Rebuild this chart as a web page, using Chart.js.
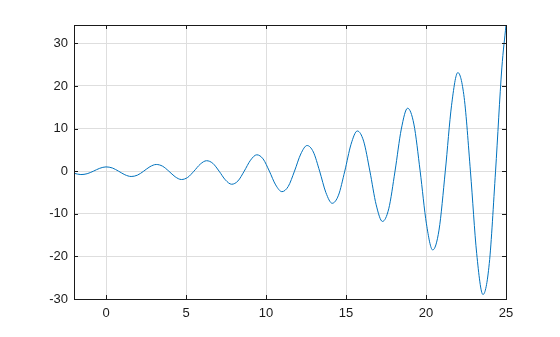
<!DOCTYPE html>
<html>
<head>
<meta charset="utf-8">
<script src="https://cdn.jsdelivr.net/npm/chart.js@4"></script>
<style>
  html, body { margin: 0; padding: 0; background: #fff; }
  #wrap { width: 560px; height: 337px; }
</style>
</head>
<body>
<div id="wrap"><canvas id="plot"></canvas></div>
<script>
// values
const xValues = [-2, -1.571, -1.178, -0.785, -0.393, 0, 0.393, 0.785, 1.178, 1.571, 1.963, 2.356, 2.749,
    3.142, 3.534, 3.927, 4.320, 4.712, 5.105, 5.498, 5.890, 6.283, 6.676, 7.069, 7.461, 7.854, 8.247,
    8.639, 9.032, 9.425, 9.817, 10.210, 10.603, 10.996, 11.388, 11.781, 12.174, 12.566, 12.959, 13.352,
    13.744, 14.137, 14.530, 14.923, 15.315, 15.708, 16.101, 16.493, 16.886, 17.279, 17.671, 18.064,
    18.457, 18.850, 19.242, 19.635, 20.028, 20.420, 20.813, 21.206, 21.598, 21.991, 22.384, 22.777,
    23.169, 23.562, 23.955, 24.347, 24.740, 25];
const yValues = [-0.49, -0.80, -0.60, 0, 0.67, 1, 0.75, 0, -0.84, -1.25, -0.94, 0, 1.05,
    1.57, 1.17, 0, -1.31, -1.96, -1.47, 0, 1.64, 2.45, 1.84, 0, -2.05, -3.07, -2.30,
    0, 2.57, 3.84, 2.88, 0, -3.22, -4.81, -3.60, 0, 4.03, 6.02, 4.50, 0,
    -5.04, -7.54, -5.64, 0, 6.31, 9.43, 7.05, 0, -7.89, -11.80, -8.83, 0,
    9.88, 14.77, 11.05, 0, -12.36, -18.49, -13.83, 0, 15.47, 23.14, 17.31, 0,
    -19.36, -28.96, -21.66, 0, 24.23, 34.3];
const xTicks = [0, 5, 10, 15, 20, 25];
const yTicks = [-30, -20, -10, 0, 10, 20, 30];

const axisColor = '#1a1a1a';
const gridColor = '#dedede';

const points = xValues.map((x, i) => ({ x: x, y: yValues[i] }));

// box round the axes and inward tick marks, like the original plot
const boxPlugin = {
    id: 'box',
    afterDraw(chart) {
        const ctx = chart.ctx;
        const a = chart.chartArea;
        const xs = chart.scales.x, ys = chart.scales.y;
        ctx.save();
        ctx.strokeStyle = axisColor;
        ctx.lineWidth = 1;
        ctx.strokeRect(Math.round(a.left) + 0.5, Math.round(a.top) + 0.5,
            Math.round(a.right - a.left), Math.round(a.bottom - a.top));
        ctx.beginPath();
        xTicks.forEach(v => {
            const px = Math.round(xs.getPixelForValue(v)) + 0.5;
            ctx.moveTo(px, a.bottom); ctx.lineTo(px, a.bottom - 4);
            ctx.moveTo(px, a.top); ctx.lineTo(px, a.top + 4);
        });
        yTicks.forEach(v => {
            const py = Math.round(ys.getPixelForValue(v)) + 0.5;
            ctx.moveTo(a.left, py); ctx.lineTo(a.left + 4, py);
            ctx.moveTo(a.right, py); ctx.lineTo(a.right - 4, py);
        });
        ctx.stroke();
        ctx.restore();
    }
};

new Chart(document.getElementById('plot'), {
    type: 'scatter',
    data: {
        datasets: [{
            data: points,
            showLine: true,
            borderColor: '#0072BD',
            borderWidth: 1,
            pointRadius: 0,
            cubicInterpolationMode: 'monotone',
            fill: false
        }]
    },
    options: {
        responsive: true,
        maintainAspectRatio: false,
        animation: false,
        layout: { padding: { left: 0, right: 54, top: 25, bottom: 0 } },
        plugins: {
            legend: { display: false },
            tooltip: { enabled: false }
        },
        scales: {
            x: {
                type: 'linear',
                min: -2,
                max: 25,
                afterBuildTicks: s => { s.ticks = xTicks.map(v => ({ value: v })); },
                afterFit: s => { s.height = 38; },
                grid: { color: gridColor, drawTicks: false },
                border: { display: false },
                ticks: {
                    color: axisColor,
                    padding: 7,
                    maxRotation: 0,
                    font: { family: 'Liberation Sans, Arial, sans-serif', size: 13 }
                }
            },
            y: {
                type: 'linear',
                min: -30,
                max: 34.3,
                afterBuildTicks: s => { s.ticks = yTicks.map(v => ({ value: v })); },
                afterFit: s => { s.width = 74; },
                grid: { color: gridColor, drawTicks: false },
                border: { display: false },
                ticks: {
                    color: axisColor,
                    padding: 6,
                    font: { family: 'Liberation Sans, Arial, sans-serif', size: 13 }
                }
            }
        }
    },
    plugins: [boxPlugin]
});
</script>
</body>
</html>
